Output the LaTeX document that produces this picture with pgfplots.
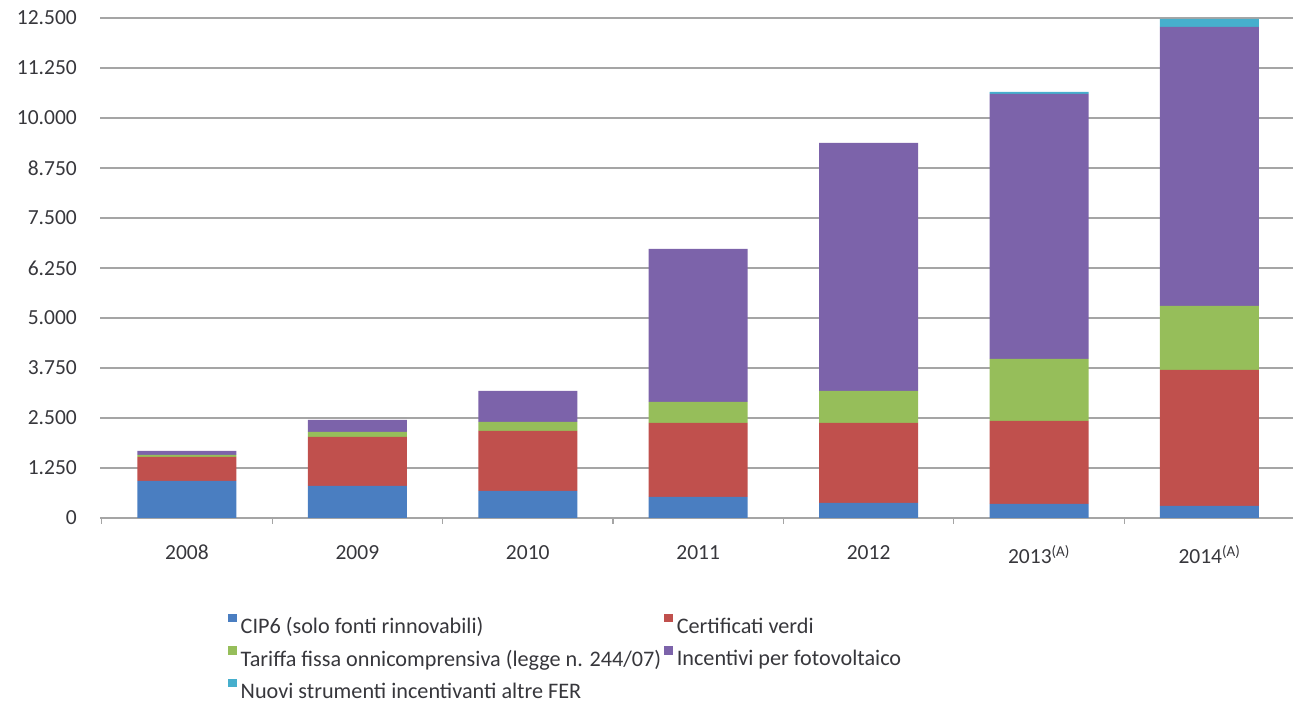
\documentclass[border=0pt]{standalone}
\usepackage{pgfplots}
\pgfplotsset{compat=1.18}
\usepackage{fontspec}
\setmainfont{Carlito}
\definecolor{cBlue}{RGB}{74,126,193}
\definecolor{cRed}{RGB}{192,80,77}
\definecolor{cGreen}{RGB}{150,190,90}
\definecolor{cPurple}{RGB}{124,99,170}
\definecolor{cTeal}{RGB}{70,175,205}
\definecolor{cGrid}{RGB}{165,165,165}
\definecolor{cText}{RGB}{55,55,60}
\begin{document}
\begin{tikzpicture}[x=1pt,y=1pt]
\begin{axis}[
  at={(100pt,188pt)}, anchor=south west,
  scale only axis, width=1193pt, height=500pt,
  ybar stacked, bar width=99pt,
  xmin=-0.51, xmax=6.49, ymin=0, ymax=12500,
  ytick={0,1250,...,12500},
  scaled y ticks=false,
  /pgf/number format/.cd, fixed, 1000 sep={.}, assume math mode=true, /pgfplots/.cd,
  ymajorgrids, grid style={line width=1.8pt, color=cGrid},
  axis x line*=bottom, axis y line*=left,
  y axis line style={draw=none},
  x axis line style={line width=1.8pt, cGrid},
  xtick={-0.5,0.5,1.5,2.5,3.5,4.5,5.5,6.5}, xticklabels={},
  extra x ticks={0,1,2,3,4,5,6},
  extra x tick labels={2008,2009,2010,2011,2012,{2013\textsuperscript{(A)}},{2014\textsuperscript{(A)}}},
  extra x tick style={major tick length=0pt, grid=none},
  tick align=outside,
  major tick length=6pt,
  x tick style={line width=1.2pt, cGrid},
  y tick style={draw=none},
  tick label style={font=\fontsize{21.5}{24}\selectfont, text=cText},
  yticklabel style={inner sep=0pt, xshift=-17pt},
  xticklabel style={inner sep=0pt, yshift=-27pt},
  legend columns=2,
  legend cell align=left,
  legend style={at={(0.1073,-0.198)}, anchor=north west, draw=none, fill=none,
    inner sep=0pt, font=\fontsize{22.2}{24}\selectfont, text=cText,
    nodes={inner sep=0pt},
    column sep=4pt, row sep=15pt,
    /tikz/every even column/.append style={column sep=3pt}},
  legend image code/.code={\fill[#1,overlay] (0pt,4pt) rectangle (8.5pt,12.5pt);
    \path[draw=none,fill=none] (0pt,0pt) rectangle (8.5pt,1pt);},
]
\addplot[fill=cBlue, draw=none] coordinates {(0,925) (1,800) (2,675) (3,525) (4,375) (5,350) (6,300)};
\addplot[fill=cRed, draw=none] coordinates {(0,600) (1,1225) (2,1500) (3,1850) (4,2000) (5,2075) (6,3400)};
\addplot[fill=cGreen, draw=none] coordinates {(0,50) (1,125) (2,225) (3,525) (4,800) (5,1550) (6,1600)};
\addplot[fill=cPurple, draw=none] coordinates {(0,100) (1,300) (2,775) (3,3825) (4,6200) (5,6625) (6,6975)};
\addplot[fill=cTeal, draw=none] coordinates {(0,0) (1,0) (2,0) (3,0) (4,0) (5,50) (6,200)};
\legend{CIP6 (solo fonti rinnovabili), Certificati verdi, Tariffa fissa onnicomprensiva (legge n. 244/07), Incentivi per fotovoltaico, Nuovi strumenti incentivanti altre FER}
\end{axis}
\pgfresetboundingbox
\useasboundingbox (0,0) rectangle (1293pt,706pt);
\end{tikzpicture}
\end{document}
